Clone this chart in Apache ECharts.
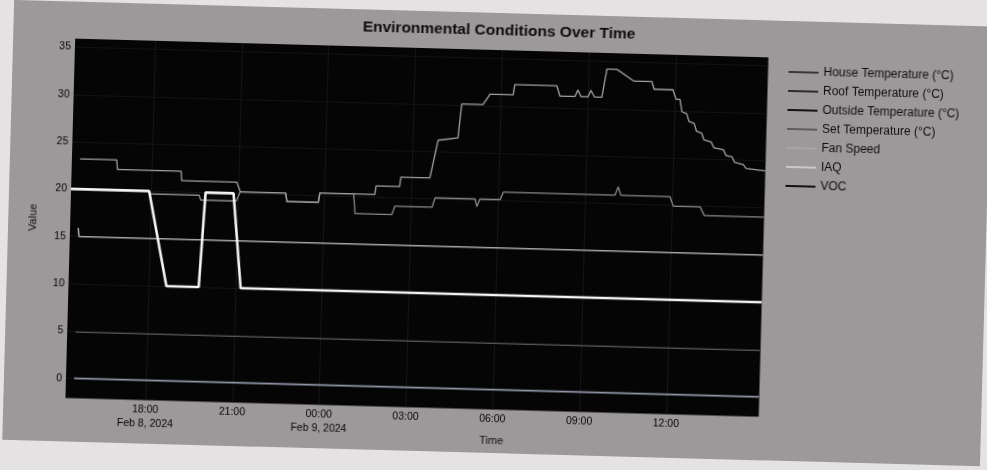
<!DOCTYPE html>
<html>
<head>
<meta charset="utf-8">
<script src="https://cdn.jsdelivr.net/npm/echarts@6/dist/echarts.min.js"></script>
<style>
  html, body { margin: 0; padding: 0; width: 987px; height: 470px; overflow: hidden; background: #e4e2e3; }
  #wrap { position: absolute; left: 0; top: 0; width: 987px; height: 470px;
          transform: rotate(1.55deg); transform-origin: 493.5px 235px; }
  #paper { position: absolute; left: 8px; top: 13px; width: 978px; height: 440px; background: #9d989a; }
  #chart { position: absolute; left: 0; top: 0; width: 987px; height: 470px; }
</style>
</head>
<body>
<div id="wrap"><div id="paper"></div><div id="chart"></div></div>
<script>
// ---- data (time 'MM-DD HH:MM', 2024) ----
const xTickTimes = ['02-08 18:00', '02-08 21:00', '02-09 00:00', '02-09 03:00', '02-09 06:00', '02-09 09:00', '02-09 12:00'];
const xTickLabels = ['18:00\nFeb 8, 2024', '21:00', '00:00\nFeb 9, 2024', '03:00', '06:00', '09:00', '12:00'];
const yTicks = [0, 5, 10, 15, 20, 25, 30, 35];
const xRange = ['02-08 15:14', '02-09 15:12'];
const yRange = [-2.1, 35.9];

const houseTemp = [
  ['02-08 15:31', 20.0], ['02-08 17:56', 20.0], ['02-08 17:58', 19.7], ['02-08 19:40', 19.7],
  ['02-08 19:43', 19.2], ['02-08 20:57', 19.2], ['02-08 21:05', 20.2], ['02-08 22:39', 20.2],
  ['02-08 22:42', 19.3], ['02-08 23:47', 19.3], ['02-08 23:50', 20.3], ['02-09 01:00', 20.3],
  ['02-09 01:04', 18.2], ['02-09 02:20', 18.2], ['02-09 02:26', 19.1], ['02-09 03:43', 19.1],
  ['02-09 03:49', 20.1], ['02-09 05:12', 20.1], ['02-09 05:16', 19.3], ['02-09 05:22', 20.1],
  ['02-09 06:04', 20.1], ['02-09 06:10', 20.9], ['02-09 10:02', 20.9], ['02-09 10:08', 21.8],
  ['02-09 10:14', 20.9], ['02-09 11:56', 20.9], ['02-09 12:03', 19.9], ['02-09 12:59', 19.9],
  ['02-09 13:08', 19.0], ['02-09 15:12', 19.0]
];
const roofTemp = [
  ['02-08 15:31', 23.2], ['02-08 16:47', 23.2], ['02-08 16:49', 22.2], ['02-08 19:01', 22.2],
  ['02-08 19:03', 21.2], ['02-08 20:57', 21.2], ['02-08 21:05', 20.2], ['02-08 22:39', 20.2],
  ['02-08 22:42', 19.3], ['02-08 23:47', 19.3], ['02-08 23:50', 20.3], ['02-09 01:44', 20.3],
  ['02-09 01:46', 21.2], ['02-09 02:35', 21.2], ['02-09 02:37', 22.2], ['02-09 03:37', 22.2],
  ['02-09 03:52', 26.2], ['02-09 04:33', 26.5], ['02-09 04:39', 30.1], ['02-09 05:23', 30.1],
  ['02-09 05:37', 31.2], ['02-09 06:25', 31.2], ['02-09 06:28', 32.3], ['02-09 07:55', 32.3],
  ['02-09 08:02', 31.2], ['02-09 08:33', 31.2], ['02-09 08:39', 31.9], ['02-09 08:46', 31.2],
  ['02-09 09:00', 31.2], ['02-09 09:06', 31.9], ['02-09 09:14', 31.2], ['02-09 09:29', 31.2],
  ['02-09 09:38', 34.2], ['02-09 09:59', 34.2], ['02-09 10:35', 33.0], ['02-09 11:12', 33.0],
  ['02-09 11:17', 32.2], ['02-09 11:56', 32.2], ['02-09 12:03', 31.2], ['02-09 12:11', 31.2],
  ['02-09 12:16', 29.9], ['02-09 12:26', 29.7], ['02-09 12:31', 28.9], ['02-09 12:42', 28.7],
  ['02-09 12:47', 27.9], ['02-09 12:58', 27.7], ['02-09 13:03', 27.0], ['02-09 13:18', 26.8],
  ['02-09 13:24', 26.2], ['02-09 13:44', 26.0], ['02-09 13:50', 25.4], ['02-09 14:02', 25.3],
  ['02-09 14:08', 24.7], ['02-09 14:26', 24.5], ['02-09 14:32', 24.1], ['02-09 15:12', 23.9]
];
const outsideTemp = [['02-08 15:31', 4.9], ['02-09 15:12', 4.9]];
const setTemp = [['02-08 15:31', 15.9], ['02-08 15:33', 15.0], ['02-09 15:12', 15.0]];
const fanSpeed = [
  ['02-08 15:14', 20], ['02-08 17:56', 20], ['02-08 18:37', 10], ['02-08 19:44', 10],
  ['02-08 19:53', 20], ['02-08 20:51', 20], ['02-08 21:11', 10], ['02-09 15:12', 10]
];
const iaq = [['02-08 15:31', 0], ['02-09 15:12', 0]];
const voc = [['02-08 15:31', 0], ['02-09 15:12', 0]];

// ---- helpers ----
function ts(s) {
  const [d, t] = s.split(' ');
  const [mo, da] = d.split('-').map(Number);
  const [h, mi] = t.split(':').map(Number);
  return Date.UTC(2024, mo - 1, da, h, mi);
}
const toData = arr => arr.map(([t, v]) => [ts(t), v]);
const xTickVals = xTickTimes.map(ts);

const FONT = "'Liberation Sans', Arial, sans-serif";
const names = ['House Temperature (°C)', 'Roof Temperature (°C)', 'Outside Temperature (°C)',
               'Set Temperature (°C)', 'Fan Speed', 'IAQ', 'VOC'];
const plotStyles = [
  { d: houseTemp,   c: '#8a8a8c', w: 1.3, z: 3 },
  { d: roofTemp,    c: '#a2a2a2', w: 1.3, z: 3 },
  { d: outsideTemp, c: '#555555', w: 1.2, z: 3 },
  { d: setTemp,     c: '#a6a6a6', w: 1.6, z: 3 },
  { d: fanSpeed,    c: '#f4f4f4', w: 2.6, z: 4 },
  { d: iaq,         c: '#9096a8', w: 1.6, z: 3 },
  { d: voc,         c: '#141414', w: 1.6, z: 1 }
];
const legendColors = ['#38383c', '#2c2c2c', '#121212', '#5c5c62', '#a9a5a6', '#cac8cb', '#101010'];

const chart = echarts.init(document.getElementById('chart'), null, { renderer: 'canvas' });
chart.setOption({
  animation: false,
  backgroundColor: 'transparent',
  textStyle: { fontFamily: FONT },
  title: {
    text: 'Environmental Conditions Over Time',
    left: 'center', top: 18,
    textStyle: { fontFamily: FONT, fontSize: 15.5, fontWeight: 'bold', color: '#0c0c0c' }
  },
  legend: {
    orient: 'vertical', left: 779, top: 53,
    itemWidth: 30, itemHeight: 2, itemGap: 7,
    selectedMode: false,
    textStyle: { fontFamily: FONT, fontSize: 12, color: '#0f0f0f', lineHeight: 12 },
    data: names.map((n, i) => ({
      name: n, icon: 'rect',
      itemStyle: { color: legendColors[i], borderWidth: 0 }
    }))
  },
  grid: {
    left: 70, top: 50, right: 223.5, bottom: 60.5,
    show: true, backgroundColor: '#050505', borderWidth: 0,
    outerBoundsMode: 'none'
  },
  xAxis: {
    type: 'value',
    min: ts(xRange[0]), max: ts(xRange[1]),
    name: 'Time', nameLocation: 'middle', nameGap: 26, nameMoveOverlap: false,
    nameTextStyle: { fontFamily: FONT, fontSize: 11, color: '#0f0f0f', padding: [0, 0, 0, 160] },
    axisLine: { show: false },
    axisTick: { show: false, customValues: xTickVals },
    splitLine: { show: true, lineStyle: { color: '#151515', width: 1 } },
    axisLabel: {
      customValues: xTickVals,
      margin: 3,
      fontFamily: FONT, fontSize: 10.5, lineHeight: 14, color: '#050505',
      formatter: function (v) {
        const i = xTickVals.findIndex(t => Math.abs(t - v) < 1000);
        return i >= 0 ? xTickLabels[i] : '';
      }
    }
  },
  yAxis: {
    type: 'value',
    min: yRange[0], max: yRange[1],
    name: 'Value', nameLocation: 'middle', nameGap: 32, nameRotate: 90, nameMoveOverlap: false,
    nameTextStyle: { fontFamily: FONT, fontSize: 11, color: '#0f0f0f' },
    axisLine: { show: false },
    axisTick: { show: false, customValues: yTicks },
    splitLine: { show: true, lineStyle: { color: '#131313', width: 1 } },
    axisLabel: {
      customValues: yTicks,
      margin: 4,
      fontFamily: FONT, fontSize: 10.5, color: '#050505'
    }
  },
  series: names.map((n, i) => ({
    name: n, type: 'line',
    data: toData(plotStyles[i].d),
    symbol: 'none', showSymbol: false,
    z: plotStyles[i].z,
    itemStyle: { color: plotStyles[i].c },
    lineStyle: { color: plotStyles[i].c, width: plotStyles[i].w }
  }))
});
</script>
</body>
</html>
